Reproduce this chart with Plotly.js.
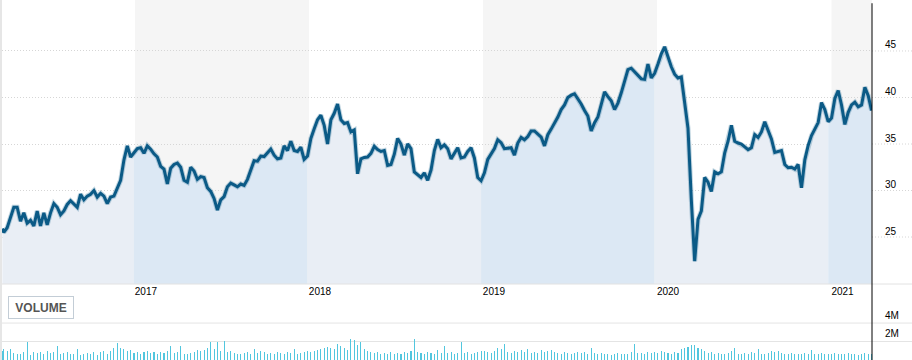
<!DOCTYPE html>
<html>
<head>
<meta charset="utf-8">
<script src="https://cdn.plot.ly/plotly-3.0.1.min.js"></script>
<style>
  html, body { margin: 0; padding: 0; background: #ffffff; }
  #chart { width: 912px; height: 360px; }
</style>
</head>
<body>
<div id="chart"></div>
<script>
// ---- data (weekly closes) ----
const dates = [
  '2016-03-29',
  '2016-04-01','2016-04-08','2016-04-15','2016-04-22','2016-04-29','2016-05-06','2016-05-13','2016-05-20','2016-05-27','2016-06-03',
  '2016-06-10','2016-06-17','2016-06-24','2016-07-01','2016-07-08','2016-07-15','2016-07-22','2016-07-29','2016-08-05','2016-08-12',
  '2016-08-19','2016-08-26','2016-09-02','2016-09-09','2016-09-16','2016-09-23','2016-09-30','2016-10-07','2016-10-14','2016-10-21',
  '2016-10-28','2016-11-04','2016-11-11','2016-11-18','2016-11-25','2016-12-02','2016-12-09','2016-12-16','2016-12-23','2016-12-30',
  '2017-01-06','2017-01-13','2017-01-20','2017-01-27','2017-02-03','2017-02-10','2017-02-17','2017-02-24','2017-03-03','2017-03-10',
  '2017-03-17','2017-03-24','2017-03-31','2017-04-07','2017-04-14','2017-04-21','2017-04-28','2017-05-05','2017-05-12','2017-05-19',
  '2017-05-26','2017-06-02','2017-06-09','2017-06-16','2017-06-23','2017-06-30','2017-07-07','2017-07-14','2017-07-21','2017-07-28',
  '2017-08-04','2017-08-11','2017-08-18','2017-08-25','2017-09-01','2017-09-08','2017-09-15','2017-09-22','2017-09-29','2017-10-06',
  '2017-10-13','2017-10-20','2017-10-27','2017-11-03','2017-11-10','2017-11-17','2017-11-24','2017-12-01','2017-12-08','2017-12-15',
  '2017-12-22','2017-12-29','2018-01-05','2018-01-12','2018-01-19','2018-01-26','2018-02-02','2018-02-09','2018-02-16','2018-02-23',
  '2018-03-02','2018-03-09','2018-03-16','2018-03-23','2018-03-30','2018-04-06','2018-04-13','2018-04-20','2018-04-27','2018-05-04',
  '2018-05-11','2018-05-18','2018-05-25','2018-06-01','2018-06-08','2018-06-15','2018-06-22','2018-06-29','2018-07-06','2018-07-13',
  '2018-07-20','2018-07-27','2018-08-03','2018-08-10','2018-08-17','2018-08-24','2018-08-31','2018-09-07','2018-09-14','2018-09-21',
  '2018-09-28','2018-10-05','2018-10-12','2018-10-19','2018-10-26','2018-11-02','2018-11-09','2018-11-16','2018-11-23','2018-11-30',
  '2018-12-07','2018-12-14','2018-12-21','2018-12-28','2019-01-04','2019-01-11','2019-01-18','2019-01-25','2019-02-01','2019-02-08',
  '2019-02-15','2019-02-22','2019-03-01','2019-03-08','2019-03-15','2019-03-22','2019-03-29','2019-04-05','2019-04-12','2019-04-19',
  '2019-04-26','2019-05-03','2019-05-10','2019-05-17','2019-05-24','2019-05-31','2019-06-07','2019-06-14','2019-06-21','2019-06-28',
  '2019-07-05','2019-07-12','2019-07-19','2019-07-26','2019-08-02','2019-08-09','2019-08-16','2019-08-23','2019-08-30','2019-09-06',
  '2019-09-13','2019-09-20','2019-09-27','2019-10-04','2019-10-11','2019-10-18','2019-10-25','2019-11-01','2019-11-08','2019-11-15',
  '2019-11-22','2019-11-29','2019-12-06','2019-12-13','2019-12-20','2019-12-27','2020-01-03','2020-01-10','2020-01-17','2020-01-24',
  '2020-01-31','2020-02-07','2020-02-14','2020-02-21','2020-02-28','2020-03-06','2020-03-13','2020-03-20','2020-03-27','2020-04-03',
  '2020-04-10','2020-04-17','2020-04-24','2020-05-01','2020-05-08','2020-05-15','2020-05-22','2020-05-29','2020-06-05','2020-06-12',
  '2020-06-19','2020-06-26','2020-07-03','2020-07-10','2020-07-17','2020-07-24','2020-07-31','2020-08-07','2020-08-14','2020-08-21',
  '2020-08-28','2020-09-04','2020-09-11','2020-09-18','2020-09-25','2020-10-02','2020-10-09','2020-10-16','2020-10-23','2020-10-30',
  '2020-11-06','2020-11-13','2020-11-20','2020-11-27','2020-12-04','2020-12-11','2020-12-18','2020-12-25','2021-01-01','2021-01-08',
  '2021-01-15','2021-01-22','2021-01-29','2021-02-05','2021-02-12','2021-02-19','2021-02-26','2021-03-05','2021-03-12','2021-03-19',
  '2021-03-26'
];

const price = [
  25.9,
  25.5, 26.0, 27.0, 28.2, 28.2, 26.7, 27.6, 26.5, 26.8, 26.2,
  27.8, 26.2, 27.6, 26.3, 27.6, 28.6, 28.2, 27.4, 27.8, 28.5,
  28.9, 28.6, 28.2, 29.6, 29.0, 29.4, 29.6, 30.0, 29.3, 29.7,
  29.4, 28.6, 29.3, 29.4, 30.3, 31.1, 33.3, 34.8, 33.6, 34.0,
  34.5, 34.6, 34.0, 34.8, 34.45, 33.95, 33.6, 32.6, 32.3, 30.7,
  32.4, 32.8, 32.95, 32.5, 31.1, 30.9, 32.5, 32.1, 31.2, 31.5,
  31.4, 30.3, 29.9, 29.15, 27.9, 29.0, 29.35, 30.4, 30.8, 30.6,
  30.4, 30.7, 30.55, 31.2, 32.2, 33.2, 33.15, 33.7, 33.65, 34.1,
  34.45, 33.8, 33.4, 33.5, 34.8, 34.3, 35.3, 34.3, 34.2, 34.65,
  33.35, 33.7, 35.6, 36.65, 37.6, 38.1, 37.0, 35.0, 37.6, 38.3,
  39.3, 37.6, 37.2, 37.3, 36.3, 36.5, 31.8, 33.4, 33.55, 33.6,
  34.0, 34.75, 34.4, 34.2, 34.3, 32.7, 32.8, 33.9, 35.6, 35.0,
  33.8, 35.0, 34.5, 32.0, 31.7, 31.4, 31.9, 31.1, 32.2, 34.3,
  35.5, 34.6, 34.9, 34.5, 33.4, 33.95, 34.6, 33.5, 33.6, 34.2,
  34.6, 33.5, 31.4, 31.05, 31.9, 33.35, 34.0, 34.5, 35.45, 35.15,
  34.5, 34.55, 34.6, 33.8, 35.1, 35.7, 35.45, 35.8, 36.4, 36.4,
  36.1, 35.75, 34.8, 36.0, 36.6, 37.2, 37.9, 38.7, 39.2, 40.0,
  40.25, 40.4, 39.85, 39.3, 38.6, 38.0, 36.4, 37.3, 37.9, 39.2,
  40.6, 40.1, 39.65, 38.7, 39.4, 40.5, 41.7, 43.0, 43.15, 42.8,
  42.4, 42.0, 41.95, 43.6, 42.1, 42.6, 43.6, 44.7, 45.45, 44.3,
  43.3, 42.5, 42.1, 42.2, 39.6, 36.7, 29.0, 22.4, 26.9, 27.8,
  31.4, 30.9, 29.9, 32.0, 31.8, 32.0, 34.05, 35.3, 37.0, 35.3,
  35.1, 35.0, 34.7, 34.4, 34.6, 36.0, 35.7, 36.3, 37.4, 36.5,
  35.55, 34.1, 34.2, 34.3, 32.8, 32.45, 32.5, 32.3, 32.8, 30.3,
  33.3, 34.85, 35.9, 36.6, 37.3, 39.45, 38.7, 37.4, 37.8, 39.9,
  40.75, 39.2, 37.1, 38.4, 39.2, 39.5, 39.0, 39.2, 41.1, 40.2,
  38.6
];

// volume in millions of shares
const volume = [
  1.0,
  1.2, 1.0, 1.2, 0.8, 0.6, 0.7, 0.9, 2.0, 0.5, 0.9,
  0.8, 0.9, 0.7, 1.0, 0.8, 0.9, 1.5, 0.6, 0.8, 0.9,
  0.7, 0.6, 1.2, 0.5, 0.6, 0.8, 0.6, 0.9, 0.5, 0.9,
  1.0, 0.7, 1.0, 1.3, 1.8, 1.3, 1.2, 1.0, 1.1, 0.8,
  0.9, 0.7, 0.9, 1.0, 0.8, 0.9, 0.7, 0.9, 0.8, 1.0,
  1.5, 0.8, 0.9, 1.5, 0.6, 0.7, 0.8, 0.9, 1.1, 1.0,
  1.1, 1.3, 1.9, 1.2, 2.0, 1.0, 2.1, 0.9, 1.0, 0.8,
  0.7, 0.6, 0.8, 0.9, 0.7, 1.2, 0.8, 1.0, 0.9, 0.7,
  0.8, 0.6, 0.9, 0.8, 0.7, 0.9, 0.8, 1.2, 0.7, 0.8,
  0.9, 1.0, 0.9, 1.0, 1.1, 1.2, 1.3, 1.4, 1.3, 1.2,
  1.7, 1.5, 1.3, 1.1, 2.3, 2.2, 1.6, 2.0, 1.2, 1.0,
  0.9, 0.8, 0.9, 0.7, 0.8, 0.6, 0.9, 0.7, 0.8, 0.6,
  0.9, 0.8, 1.0, 2.3, 0.9, 0.8, 0.7, 0.9, 0.8, 0.7,
  1.1, 0.8, 1.5, 0.8, 0.9, 0.7, 0.8, 1.9, 0.8, 0.9,
  0.7, 0.8, 0.9, 1.0, 1.0, 0.9, 0.8, 1.0, 1.3, 1.2,
  1.7, 0.9, 0.8, 1.0, 0.9, 1.1, 0.9, 1.2, 0.8, 0.9,
  0.8, 1.1, 0.9, 1.0, 1.1, 0.9, 0.8, 0.7, 0.9, 0.8,
  0.7, 0.8, 0.9, 0.8, 0.9, 0.7, 1.3, 0.8, 0.7, 0.8,
  0.6, 0.7, 0.5, 0.6, 0.8, 0.7, 0.6, 0.7, 0.9, 1.7,
  0.8, 0.8, 0.7, 0.9, 0.8, 0.9, 0.8, 1.0, 0.9, 0.8,
  0.7, 0.9, 0.8, 1.2, 1.3, 1.4, 1.6, 1.6, 1.3, 1.2,
  1.0, 0.8, 0.9, 0.7, 0.8, 0.6, 0.7, 0.8, 1.0, 1.3,
  0.7, 0.6, 0.8, 0.7, 0.9, 0.8, 1.2, 0.7, 0.6, 0.8,
  1.0, 0.9, 1.0, 0.8, 0.6, 0.7, 0.8, 0.6, 0.7, 0.6,
  0.8, 0.7, 1.1, 0.7, 0.6, 0.8, 0.7, 0.6, 0.7, 0.8,
  0.6, 0.7, 0.6, 0.8, 0.7, 0.6, 0.5, 0.7, 0.8, 0.6,
  0.7
];

const yearTicks  = ['2017-01-01', '2018-01-01', '2019-01-01', '2020-01-01', '2021-01-01'];
const yearLabels = ['2017', '2018', '2019', '2020', '2021'];
const priceTicks = [25, 30, 35, 40, 45];
const volTicks   = [2, 4];
const volLabels  = ['2M', '4M'];
const shadedYears = [['2017-01-01', '2018-01-01'], ['2019-01-01', '2020-01-01'], ['2021-01-01', '2021-03-28']];
const fillYears = [2016, 2017, 2018, 2019, 2020, 2021];

// ---- styling ----
const LINE = '#0b5a86';
const FILL_PLAIN = '#e9eef5';
const FILL_SHADED = '#dce8f4';
const BAND = '#f5f5f5';
const GRID = '#d6d6d6';
const FONT = 'Liberation Sans, Arial, sans-serif';
const W = 912, RM = 40, LM = 2;
const plotW = W - RM - LM;
const extR = 1 + RM / plotW;

// per-year area fills (alternate tint like the reference)
const traces = [];
fillYears.forEach(function (yr) {
  const idx = [];
  dates.forEach(function (d, i) { if (+d.slice(0, 4) === yr) idx.push(i); });
  if (!idx.length) return;
  if (idx[0] > 0) idx.unshift(idx[0] - 1);
  traces.push({
    type: 'scatter', mode: 'lines',
    x: idx.map(i => dates[i]), y: idx.map(i => price[i]),
    fill: 'tozeroy', fillcolor: (yr % 2 === 1) ? FILL_SHADED : FILL_PLAIN,
    line: { width: 0, color: 'rgba(0,0,0,0)' },
    hoverinfo: 'skip', showlegend: false, xaxis: 'x', yaxis: 'y'
  });
});

// soft halo + price line
traces.push({
  type: 'scatter', mode: 'lines', x: dates, y: price,
  line: { color: 'rgba(11,90,134,0.25)', width: 5 },
  showlegend: false, xaxis: 'x', yaxis: 'y'
});
traces.push({
  type: 'scatter', mode: 'lines', x: dates, y: price,
  line: { color: LINE, width: 3, shape: 'linear' },
  showlegend: false, xaxis: 'x', yaxis: 'y'
});

// volume bars
traces.push({
  type: 'bar', x: dates, y: volume,
  marker: { color: '#52c6de', line: { width: 0 } },
  width: 86400000 * 2.2,
  showlegend: false, xaxis: 'x', yaxis: 'y2'
});

const shapes = [];
shadedYears.forEach(function (p) {
  shapes.push({ type: 'rect', xref: 'x', yref: 'y domain', x0: p[0], x1: p[1], y0: 0, y1: 1,
    fillcolor: BAND, line: { width: 0 }, layer: 'below' });
});
// gridline extensions right of the axis
priceTicks.forEach(function (v) {
  shapes.push({ type: 'line', xref: 'paper', yref: 'y', x0: 1, x1: extR, y0: v, y1: v,
    line: { color: GRID, width: 1, dash: '1px,2px' } });
});
volTicks.forEach(function (v) {
  shapes.push({ type: 'line', xref: 'paper', yref: 'y2', x0: 0, x1: extR, y0: v, y1: v,
    line: { color: '#e4e4e4', width: 1 }, layer: 'below' });
});
// bottom line of price panel
shapes.push({ type: 'line', xref: 'paper', yref: 'y domain', x0: 0, x1: extR, y0: 0, y1: 0,
  line: { color: '#e2e2e2', width: 1 } });
// right axis line spanning both panels
shapes.push({ type: 'line', xref: 'paper', yref: 'paper', x0: 1, x1: 1, y0: 0, y1: 0.991,
  line: { color: '#000000', width: 1 } });
// thin grey left border
shapes.push({ type: 'rect', xref: 'paper', yref: 'paper', x0: -LM / plotW, x1: 0, y0: 0, y1: 1,
  fillcolor: '#e6e6e6', line: { width: 0 } });

const layout = {
  width: W, height: 360,
  margin: { l: LM, r: RM, t: 0, b: 0, pad: 0 },
  paper_bgcolor: '#ffffff', plot_bgcolor: 'rgba(0,0,0,0)',
  showlegend: false, hovermode: false, bargap: 0,
  font: { family: FONT, size: 10, color: '#000' },
  xaxis: {
    type: 'date', range: ['2016-03-28 05:00', '2021-03-26 22:00'],
    anchor: 'y', tickvals: yearTicks, ticktext: yearLabels,
    ticks: '', showgrid: false, zeroline: false, showline: false,
    tickfont: { family: FONT, size: 10, color: '#000' },
    ticklabelshift: 11, ticklabelstandoff: 0
  },
  yaxis: {
    domain: [0.2111, 1], range: [19.95, 50.48], side: 'right', anchor: 'x',
    tickvals: priceTicks, ticks: '', showgrid: true, gridcolor: GRID, griddash: '1px,2px', gridwidth: 1,
    zeroline: false, showline: false,
    tickfont: { family: FONT, size: 10, color: '#000' },
    ticklabelshift: -6, ticklabelstandoff: 12
  },
  yaxis2: {
    domain: [0, 0.1667], range: [0, 6.5], side: 'right', anchor: 'x',
    tickvals: volTicks, ticktext: volLabels, ticks: '', showgrid: false,
    zeroline: false, showline: false,
    tickfont: { family: FONT, size: 10, color: '#000' },
    ticklabelshift: -8, ticklabelstandoff: 12
  },
  shapes: shapes,
  annotations: [{
    xref: 'paper', yref: 'paper', x: (41 - LM) / plotW, y: (360 - 307.7) / 360,
    text: '<b>VOLUME</b>', showarrow: false,
    font: { family: FONT, size: 12, color: '#555555' },
    bordercolor: '#c3cdd6', borderwidth: 1, borderpad: 3,
    width: 58, height: 15, bgcolor: '#ffffff',
    xanchor: 'center', yanchor: 'middle'
  }]
};

Plotly.newPlot('chart', traces, layout, { staticPlot: true, displayModeBar: false });
</script>
</body>
</html>
